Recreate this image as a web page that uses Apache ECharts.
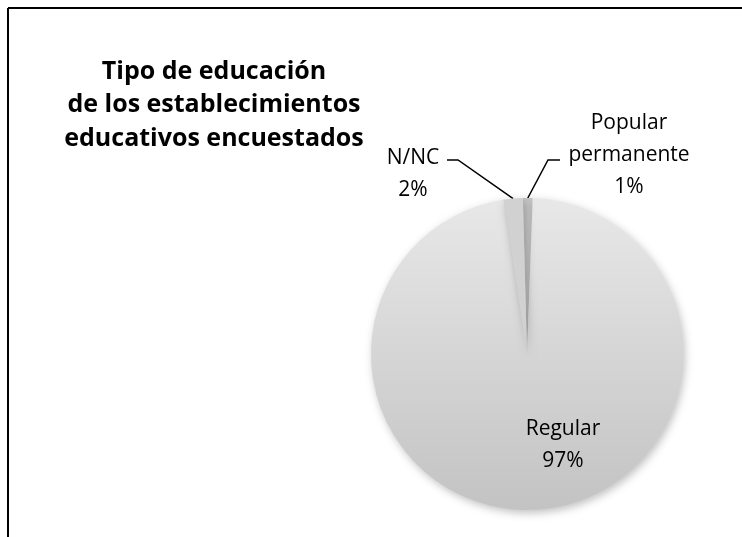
<!DOCTYPE html>
<html>
<head>
<meta charset="utf-8">
<script src="https://cdn.jsdelivr.net/npm/echarts@6/dist/echarts.min.js"></script>
<style>
html, body { margin: 0; padding: 0; background: #fff; }
#chart { width: 742px; height: 537px; }
</style>
</head>
<body>
<div id="chart"></div>
<script>
// datos del grafico
var categorias = ['Popular\npermanente', 'Regular', 'N/NC'];
var valores = [1, 97, 2];
var colores = ['#c6c6c6', null, '#d1d1d1'];

var chart = echarts.init(document.getElementById('chart'));

var regularColor = new echarts.graphic.LinearGradient(0, 0, 0, 1, [
    { offset: 0, color: '#e8e8e8' },
    { offset: 1, color: '#c3c3c3' }
]);

var datos = categorias.map(function (c, i) {
    return {
        name: c,
        value: valores[i],
        itemStyle: { color: colores[i] || regularColor }
    };
});

var option = {
    backgroundColor: '#fff',
    title: {
        text: 'Tipo de educación\nde los establecimientos\neducativos encuestados',
        left: 209,
        top: 50,
        textAlign: 'center',
        textStyle: {
            fontFamily: 'Open Sans',
            fontSize: 25,
            fontWeight: 'bold',
            color: '#000',
            lineHeight: 33.5
        }
    },
    graphic: [
        { type: 'line', shape: { x1: 8, y1: 8, x2: 742, y2: 8 }, style: { stroke: '#000', lineWidth: 2 } },
        { type: 'line', shape: { x1: 8, y1: 8, x2: 8, y2: 537 }, style: { stroke: '#000', lineWidth: 2 } }
    ],
    series: [
        {
            type: 'pie',
            center: [527, 354],
            radius: 156,
            startAngle: 91.5,
            clockwise: true,
            avoidLabelOverlap: false,
            itemStyle: {
                shadowBlur: 8,
                shadowOffsetX: 2,
                shadowOffsetY: 3,
                shadowColor: 'rgba(0,0,0,0.25)'
            },
            label: {
                show: true,
                formatter: function (p) { return p.name + '\n' + p.percent.toFixed(0) + '%'; },
                fontFamily: 'Open Sans',
                fontSize: 21,
                lineHeight: 32,
                color: '#000',
                align: 'center'
            },
            labelLine: {
                show: true,
                lineStyle: { color: '#000', width: 1.5 }
            },
            labelLayout: function (p) {
                var pts = p.labelLinePoints;
                if (p.dataIndex === 0) {
                    return {
                        x: 629, y: 155, align: 'center', verticalAlign: 'middle',
                        labelLinePoints: pts ? [pts[0], [548, 160], [560, 160]] : undefined
                    };
                }
                if (p.dataIndex === 2) {
                    return {
                        x: 413, y: 174, align: 'center', verticalAlign: 'middle',
                        labelLinePoints: pts ? [pts[0], [458, 160], [447, 160]] : undefined
                    };
                }
                return { x: 563, y: 445, align: 'center', verticalAlign: 'middle' };
            },
            data: datos
        }
    ]
};
// etiqueta de Regular va adentro sin linea
option.series[0].data[1].label = { position: 'inside' };
option.series[0].data[1].labelLine = { show: false };

chart.setOption(option);
</script>
</body>
</html>
